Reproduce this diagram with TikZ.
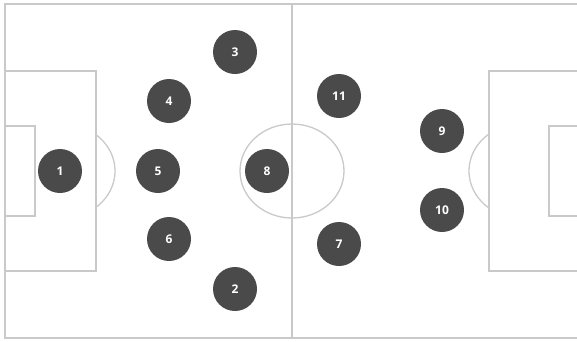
\documentclass[tikz,border=0pt]{standalone}
\usepackage{fontspec}
\setsansfont{Open Sans}
\begin{document}
\begin{tikzpicture}[x=1pt,y=-1pt,font=\sffamily\bfseries\fontsize{12}{14}\selectfont,
  line/.style={draw=black!21,line width=1.3pt},
  pl/.style={circle,fill=black!71,text=white,minimum size=44pt,inner sep=0pt}]
  \useasboundingbox (0,0) rectangle (577,341);
  % pitch
  \path[line] (579,4) -- (5,4) -- (5,338) -- (579,338);
  \path[line] (292,4) -- (292,338);
  \path[line] (292,171) ellipse[x radius=52,y radius=47];
  \path[line] (5,71) rectangle (96,271);
  \path[line] (5,126) rectangle (35,216);
  \path[line] (579,71) -- (489,71) -- (489,271) -- (579,271);
  \path[line] (579,126) -- (549,126) -- (549,216) -- (579,216);
  \path[line] ([shift={(-50.6:52 and 47)}]63,171) arc[start angle=-50.6,end angle=50.6,x radius=52,y radius=47];
  \path[line] ([shift={(129.4:52 and 47)}]521,171) arc[start angle=129.4,end angle=230.6,x radius=52,y radius=47];
  % players
  \node[pl] (p1) at (60,171) {1};
  \node[pl] (p2) at (235,289) {2};
  \node[pl] (p3) at (235,52) {3};
  \node[pl] (p4) at (169,101) {4};
  \node[pl] (p5) at (158,171) {5};
  \node[pl] (p6) at (169,239) {6};
  \node[pl] (p7) at (339,244) {7};
  \node[pl] (p8) at (267,171) {8};
  \node[pl] (p9) at (442,131) {9};
  \node[pl] (p10) at (442,210) {10};
  \node[pl] (p11) at (339,96) {11};
\end{tikzpicture}
\end{document}
